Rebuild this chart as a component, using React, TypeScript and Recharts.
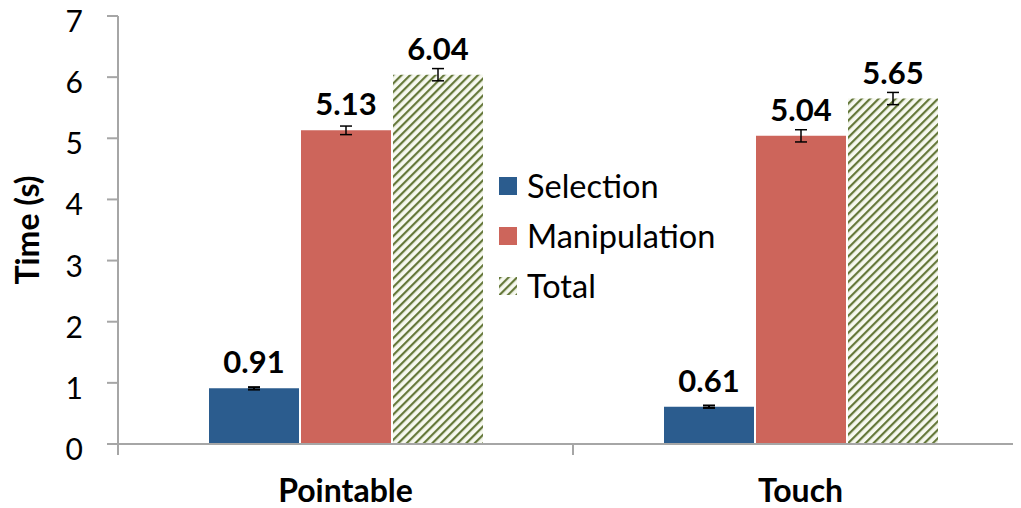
import React from 'react';
import {
  BarChart,
  Bar,
  XAxis,
  YAxis,
  ErrorBar,
  LabelList,
  Label
} from 'recharts';

// ============================================================================
// Data
// ============================================================================

const categories = ['Pointable', 'Touch'];
const selection = [0.91, 0.61];
const selectionErr = [0.02, 0.02];
const manipulation = [5.13, 5.04];
const manipulationErr = [0.07, 0.1];
const total = [6.04, 5.65];
const totalErr = [0.1, 0.1];
const yTicks = [0, 1, 2, 3, 4, 5, 6, 7];

const chartData = categories.map((name, i) => ({
  name,
  selection: selection[i],
  selectionErr: selectionErr[i],
  manipulation: manipulation[i],
  manipulationErr: manipulationErr[i],
  total: total[i],
  totalErr: totalErr[i]
}));

const COLORS = {
  selection: '#2B5C8E',
  manipulation: '#CD655B',
  hatch: '#65783A',
  hatchBg: '#F7F9F0',
  axis: '#A6A6A6'
};

const FONT = 'Lato, "Open Sans", sans-serif';

// ============================================================================
// Legend (plain overlay so it takes no room from the plot)
// ============================================================================

const LegendBox = () => {
  const items = [
    { label: 'Selection', fill: COLORS.selection },
    { label: 'Manipulation', fill: COLORS.manipulation },
    { label: 'Total', fill: 'url(#hatch)' }
  ];
  return (
    <div
      style={{
        position: 'absolute',
        left: 499,
        top: 161,
        fontFamily: FONT,
        fontSize: 32.5,
        color: '#000',
        lineHeight: 1
      }}
    >
      {items.map((item) => (
        <div
          key={item.label}
          style={{ display: 'flex', alignItems: 'center', height: 50 }}
        >
          <svg width={18} height={18} style={{ marginRight: 10 }}>
            <rect width={18} height={18} fill={item.fill} />
          </svg>
          <span>{item.label}</span>
        </div>
      ))}
    </div>
  );
};

const YTick = ({ x, y, payload }: any) => (
  <text
    x={x}
    y={y}
    dy={16}
    textAnchor="end"
    fontFamily={FONT}
    fontSize={30}
    fill="#000"
  >
    {payload.value}
  </text>
);

// category label plus the boundary ticks on each side of the band
const XTick = ({ x, y, payload }: any) => {
  const half = payload.offset || 0;
  const top = y - 36;
  return (
    <g>
      {half > 0 && (
        <>
          <line x1={x - half} x2={x - half} y1={top} y2={top + 12} stroke={COLORS.axis} strokeWidth={2} />
          <line x1={x + half} x2={x + half} y1={top} y2={top + 12} stroke={COLORS.axis} strokeWidth={2} />
        </>
      )}
      <text
        x={x}
        y={y}
        dy={23}
        textAnchor="middle"
        fontFamily={FONT}
        fontSize={32}
        fontWeight={700}
        fill="#000"
      >
        {payload.value}
      </text>
    </g>
  );
};

// ============================================================================
// Component
// ============================================================================

export default function App() {
  const labelStyle = {
    fontFamily: FONT,
    fontSize: 31,
    fontWeight: 700,
    fill: '#000'
  };

  return (
    <div
      style={{
        position: 'relative',
        width: 1021,
        height: 508,
        marginLeft: -8,
        marginTop: -8,
        overflow: 'hidden',
        background: '#fff'
      }}
    >
      <BarChart
        width={1030}
        height={508}
        data={chartData}
        margin={{ top: 16, right: 2, bottom: 14, left: 0 }}
        barCategoryGap={91}
        barGap={2}
      >
        <defs>
          <pattern
            id="hatch"
            width={6}
            height={6}
            patternUnits="userSpaceOnUse"
            patternTransform="rotate(45)"
          >
            <rect width={6} height={6} fill={COLORS.hatchBg} />
            <rect width={2.2} height={6} fill={COLORS.hatch} />
          </pattern>
        </defs>

        <XAxis
          dataKey="name"
          height={50}
          stroke={COLORS.axis}
          strokeWidth={2}
          tickLine={false}
          tick={<XTick />}
          tickMargin={29}
        />
        <YAxis
          domain={[0, 7]}
          ticks={yTicks}
          width={118}
          stroke={COLORS.axis}
          strokeWidth={2}
          tickSize={11}
          tickMargin={24}
          tick={<YTick />}
          interval={0}
        >
          <Label
            value="Time (s)"
            angle={-90}
            position="insideLeft"
            offset={28}
            style={{ ...labelStyle, fontSize: 32, textAnchor: 'middle' }}
          />
        </YAxis>

        <Bar dataKey="selection" fill={COLORS.selection} isAnimationActive={false}>
          <ErrorBar dataKey="selectionErr" width={6} stroke="#000" strokeWidth={2} />
          <LabelList dataKey="selection" position="top" offset={15} style={labelStyle} />
        </Bar>
        <Bar dataKey="manipulation" fill={COLORS.manipulation} isAnimationActive={false}>
          <ErrorBar dataKey="manipulationErr" width={6} stroke="#000" strokeWidth={1.5} />
          <LabelList dataKey="manipulation" position="top" offset={15} style={labelStyle} />
        </Bar>
        <Bar dataKey="total" fill="url(#hatch)" isAnimationActive={false}>
          <ErrorBar dataKey="totalErr" width={6} stroke="#000" strokeWidth={1.5} />
          <LabelList dataKey="total" position="top" offset={15} style={labelStyle} />
        </Bar>
      </BarChart>
      <LegendBox />
    </div>
  );
}
